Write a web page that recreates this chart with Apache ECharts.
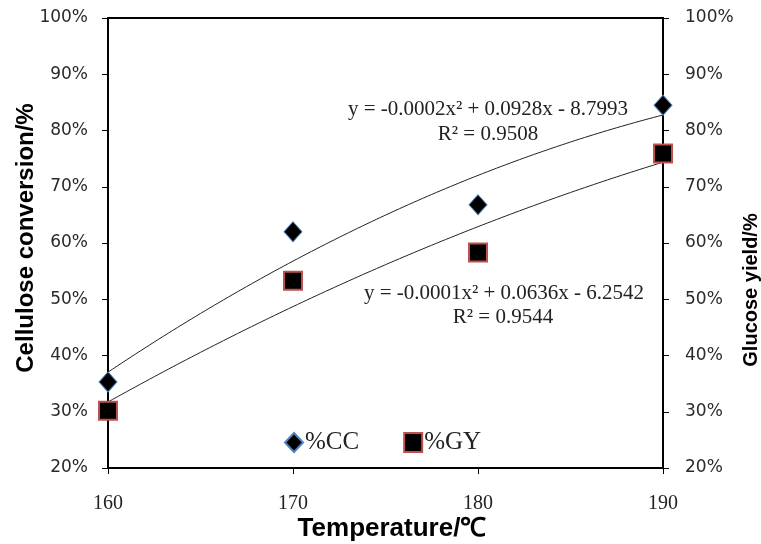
<!DOCTYPE html>
<html>
<head>
<meta charset="utf-8">
<script src="https://cdn.jsdelivr.net/npm/echarts@6/dist/echarts.min.js"></script>
<style>
  html, body { margin: 0; padding: 0; background: #fff; }
  #chart { width: 761px; height: 544px; }
</style>
</head>
<body>
<div id="chart"></div>
<script>
// Hydrolysis temperature (°C)
const temperatures = [160, 170, 180, 190];
// Cellulose conversion, %CC (%)
const cellulose = [35.3, 62.0, 66.8, 84.5];
// Glucose yield, %GY (%)
const glucose = [30.2, 53.3, 58.3, 75.9];
// Axis ticks
const xTicks = [160, 170, 180, 190];
const yTicks = [20, 30, 40, 50, 60, 70, 80, 90, 100];
// Trendline annotations
const ccEquation = ['y = -0.0002x² + 0.0928x - 8.7993', 'R² = 0.9508'];
const gyEquation = ['y = -0.0001x² + 0.0636x - 6.2542', 'R² = 0.9544'];

// Least-squares quadratic fit (polynomial trendline, order 2)
function quadFit(xs, ys) {
  const n = xs.length;
  let s = [0, 0, 0, 0, 0], t = [0, 0, 0];
  for (let i = 0; i < n; i++) {
    const x = xs[i], y = ys[i];
    let p = 1;
    for (let k = 0; k <= 4; k++) { s[k] += p; if (k <= 2) t[k] += p * y; p *= x; }
  }
  // Solve the 3x3 normal equations
  const A = [[s[0], s[1], s[2], t[0]], [s[1], s[2], s[3], t[1]], [s[2], s[3], s[4], t[2]]];
  for (let i = 0; i < 3; i++) {
    let m = i;
    for (let r = i + 1; r < 3; r++) if (Math.abs(A[r][i]) > Math.abs(A[m][i])) m = r;
    [A[i], A[m]] = [A[m], A[i]];
    for (let r = 0; r < 3; r++) {
      if (r === i) continue;
      const f = A[r][i] / A[i][i];
      for (let c = i; c < 4; c++) A[r][c] -= f * A[i][c];
    }
  }
  const c0 = A[0][3] / A[0][0], c1 = A[1][3] / A[1][1], c2 = A[2][3] / A[2][2];
  return x => c0 + c1 * x + c2 * x * x;
}

function trendPoints(xs, ys) {
  const f = quadFit(xs, ys);
  const pts = [];
  const lo = xs[0], hi = xs[xs.length - 1];
  for (let x = lo; x <= hi + 1e-9; x += 0.25) pts.push([x, f(x)]);
  return pts;
}

const chart = echarts.init(document.getElementById('chart'), null, { renderer: 'canvas' });

const serif = '"Liberation Serif", "Times New Roman", serif';
const sans = '"Liberation Sans", Arial, sans-serif';

const yAxisBase = {
  type: 'value',
  min: yTicks[0],
  max: yTicks[yTicks.length - 1],
  interval: 10,
  splitLine: { show: false },
  axisLine: { show: true, lineStyle: { color: '#000', width: 2 } },
  axisTick: { show: true, inside: false, length: 6, lineStyle: { color: '#000', width: 1 } },
  axisLabel: {
    formatter: '{value}%',
    fontFamily: '"DejaVu Sans", Verdana, sans-serif',
    fontSize: 17,
    color: '#2a2a2a'
  }
};

const option = {
  animation: false,
  backgroundColor: '#fff',
  grid: {
    left: 108, right: 98, top: 18, bottom: 76,
    show: true, borderColor: '#000', borderWidth: 2, containLabel: false
  },
  xAxis: {
    type: 'value',
    min: xTicks[0],
    max: xTicks[xTicks.length - 1],
    interval: 10,
    splitLine: { show: false },
    axisLine: { show: true, onZero: false, lineStyle: { color: '#000', width: 2 } },
    axisTick: { show: true, length: 6, lineStyle: { color: '#000', width: 1 } },
    axisLabel: { fontFamily: serif, fontSize: 20, color: '#222', margin: 26 }
  },
  yAxis: [
    Object.assign({}, yAxisBase, { position: 'left', axisLabel: Object.assign({}, yAxisBase.axisLabel, { margin: 20 }) }),
    Object.assign({}, yAxisBase, { position: 'right', axisLabel: Object.assign({}, yAxisBase.axisLabel, { margin: 22 }) })
  ],
  legend: {
    left: 279,
    top: 425,
    itemGap: 44,
    itemWidth: 18,
    itemHeight: 19,
    textStyle: { fontFamily: serif, fontSize: 25, color: '#222', padding: [0, 0, 0, -3] },
    data: [
      { name: '%CC', icon: 'diamond' },
      { name: '%GY', icon: 'rect' }
    ]
  },
  series: [
    {
      name: 'CC trend', type: 'line', yAxisIndex: 0, silent: true, z: 2,
      showSymbol: false, symbol: 'none',
      lineStyle: { color: '#222', width: 1 },
      data: trendPoints(temperatures, cellulose)
    },
    {
      name: 'GY trend', type: 'line', yAxisIndex: 0, silent: true, z: 2,
      showSymbol: false, symbol: 'none',
      lineStyle: { color: '#222', width: 1 },
      data: trendPoints(temperatures, glucose)
    },
    {
      name: '%CC', type: 'scatter', yAxisIndex: 0, z: 5,
      symbol: 'diamond', symbolSize: [18, 20],
      itemStyle: { color: '#000', opacity: 1, borderColor: '#4f81bd', borderWidth: 1 },
      data: temperatures.map((t, i) => [t, cellulose[i]])
    },
    {
      name: '%GY', type: 'scatter', yAxisIndex: 0, z: 6,
      symbol: 'rect', symbolSize: 18,
      itemStyle: { color: '#000', opacity: 1, borderColor: '#c0504d', borderWidth: 2 },
      data: temperatures.map((t, i) => [t, glucose[i]])
    }
  ],
  graphic: [
    {
      type: 'text', x: 26, y: 238, rotation: Math.PI / 2,
      style: { text: 'Cellulose conversion/%', font: 'bold 24px ' + sans, fill: '#000', align: 'center', verticalAlign: 'middle' }
    },
    {
      type: 'text', x: 751, y: 290, rotation: Math.PI / 2,
      style: { text: 'Glucose yield/%', font: 'bold 20px ' + sans, fill: '#000', align: 'center', verticalAlign: 'middle' }
    },
    {
      type: 'text', x: 392, y: 529,
      style: { text: 'Temperature/℃', font: 'bold 26px ' + sans, fill: '#000', align: 'center', verticalAlign: 'middle' }
    },
    {
      type: 'text', x: 488, y: 109,
      style: { text: ccEquation[0], font: '21px ' + serif, fill: '#222', align: 'center', verticalAlign: 'middle' }
    },
    {
      type: 'text', x: 488, y: 134,
      style: { text: ccEquation[1], font: '21px ' + serif, fill: '#222', align: 'center', verticalAlign: 'middle' }
    },
    {
      type: 'text', x: 504, y: 293,
      style: { text: gyEquation[0], font: '21px ' + serif, fill: '#222', align: 'center', verticalAlign: 'middle' }
    },
    {
      type: 'text', x: 503, y: 317,
      style: { text: gyEquation[1], font: '21px ' + serif, fill: '#222', align: 'center', verticalAlign: 'middle' }
    }
  ]
};

chart.setOption(option);
</script>
</body>
</html>
